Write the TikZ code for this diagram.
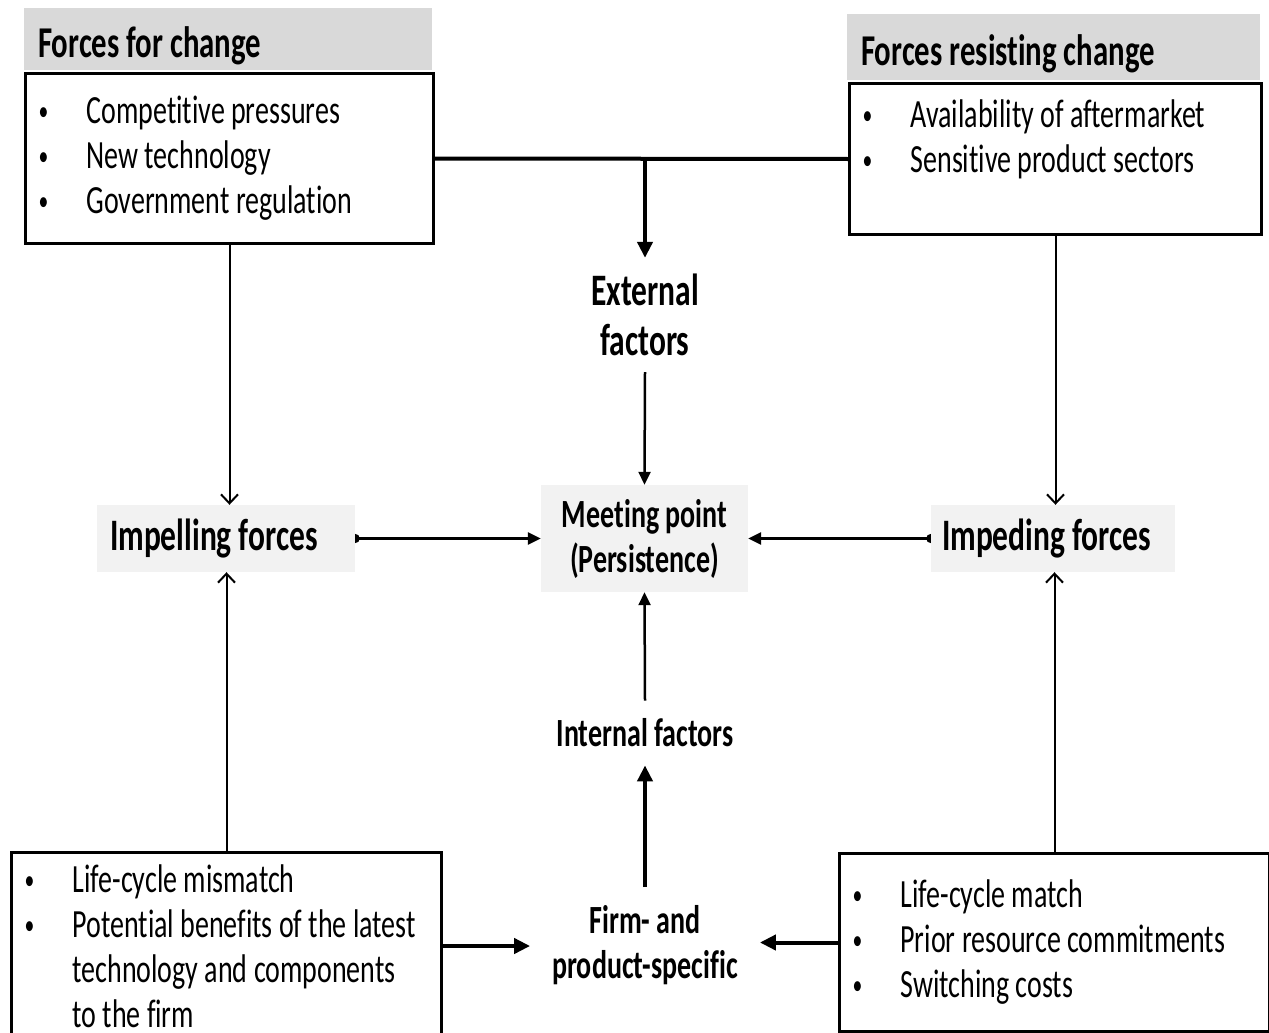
\documentclass[tikz,border=0pt]{standalone}
\usepackage{fontspec}
\setmainfont[FakeStretch=0.7, Ligatures=NoCommon]{Carlito}
\usetikzlibrary{arrows.meta,positioning,backgrounds}

\newcommand{\itm}[1]{\mbox{\makebox[50pt][l]{\hspace{2pt}{\fontsize{28}{28}\selectfont\raisebox{3pt}{\textbullet}}}#1}}
\newcommand{\gap}[1]{\mbox{\makebox[50pt][l]{}#1}}

\tikzset{
  header/.style={fill=black!15, anchor=north west, inner xsep=14pt, align=flush left,
    text height=38pt, text depth=2pt, font=\fontsize{44}{48}\selectfont\bfseries},
  listbox/.style={draw, line width=3pt, anchor=north west, inner xsep=11pt,
    align=flush left, font=\fontsize{40}{45}\selectfont},
  forcebox/.style={fill=black!5, minimum height=67pt, align=flush left,
    font=\fontsize{45}{50}\selectfont\bfseries},
  factor/.style={align=center, inner xsep=0pt, font=\fontsize{40}{45}\selectfont\bfseries},
  thickarrow/.style={line width=4pt, -{Triangle[length=16pt,width=15pt]}},
  thinarrow/.style={line width=2.5pt, -{Triangle[length=13pt,width=12pt]}},
  sidearrow/.style={line width=2pt, -{Straight Barb[length=9pt,width=17pt,line width=2pt]}},
  pusharrow/.style={line width=2.5pt, {Circle[length=9pt]}-{Triangle[length=13pt,width=12pt]}, shorten <=-4.5pt}
}

\begin{document}
\begin{tikzpicture}[x=1pt,y=-1pt]
  \useasboundingbox (0,0) rectangle (1269,1033);

  % outside pressures
  \node [header, minimum width=408pt, minimum height=62pt, text width=380pt] (tlhead) at (24,8) {Forces for change};
  \node [listbox, minimum width=408pt, minimum height=170pt, text width=386pt] (tl) at (24,72)
    {\itm{Competitive pressures}\\ \itm{New technology}\\ \itm{Government regulation}};

  \node [header, minimum width=413pt, minimum height=66pt, text width=385pt] (trhead) at (847,14) {Forces resisting change};
  \node [listbox, minimum width=412pt, minimum height=151pt, text width=390pt] (tr) at (848,82)
    {\itm{Availability of aftermarket}\\ \itm{Sensitive product sectors}\\ \mbox{}};

  % firm level
  \node [listbox, minimum width=430pt, minimum height=187pt, text width=408pt] (bl) at (10,851)
    {\itm{Life-cycle mismatch}\\ \itm{Potential benefits of the latest}\\
     \gap{technology and components}\\ \gap{to the firm}};
  \node [listbox, minimum width=430pt, minimum height=178pt, text width=408pt] (br) at (838,852)
    {\itm{Life-cycle match}\\ \itm{Prior resource commitments}\\ \itm{Switching costs}};

  % middle column
  \node [factor, inner ysep=16pt, font=\fontsize{45}{50}\selectfont\bfseries] (ext) at (645,315) {External\\factors};
  \node [factor, fill=black!5, minimum width=207pt, minimum height=107pt] (meet) at (644.5,538.5)
    {Meeting point\\(Persistence)};
  \node [factor, inner ysep=18pt] (intf) at (645,733) {Internal factors};
  \node [factor, inner xsep=22pt, inner ysep=18pt] (firm) at (645,945) {Firm- and\\product-specific};

  \node [forcebox, minimum width=258pt, inner xsep=13pt, text width=232pt] (impel) at (226,538.5) {Impelling forces};
  \node [forcebox, minimum width=244pt, inner xsep=11pt, text width=222pt] (imped) at (1053,538.5) {Impeding forces};

  \begin{scope}[on background layer]
    \draw [line width=4pt] (tl.east) -- (tr.west);
    \draw [thickarrow] (ext |- tl.east) -- (ext.north);
    \draw [thinarrow] (ext.south) -- (meet.north);
    \draw [thinarrow] (intf.north) -- (meet.south);
    \draw [thickarrow] (firm.north) -- (intf.south);
    \draw [thickarrow] (bl.east) -- (bl.east -| firm.west);
    \draw [thickarrow] (br.west) -- (br.west -| firm.east);

    \draw [sidearrow] (tl.south) -- (tl.south |- impel.north);
    \draw [sidearrow] (bl.north) -- (bl.north |- impel.south);
    \draw [sidearrow] (tr.south) -- (tr.south |- imped.north);
    \draw [sidearrow] (br.north) -- (br.north |- imped.south);

    \draw [pusharrow] (impel.east) -- (meet.west);
    \draw [pusharrow] (imped.west) -- (meet.east);
  \end{scope}
\end{tikzpicture}
\end{document}
